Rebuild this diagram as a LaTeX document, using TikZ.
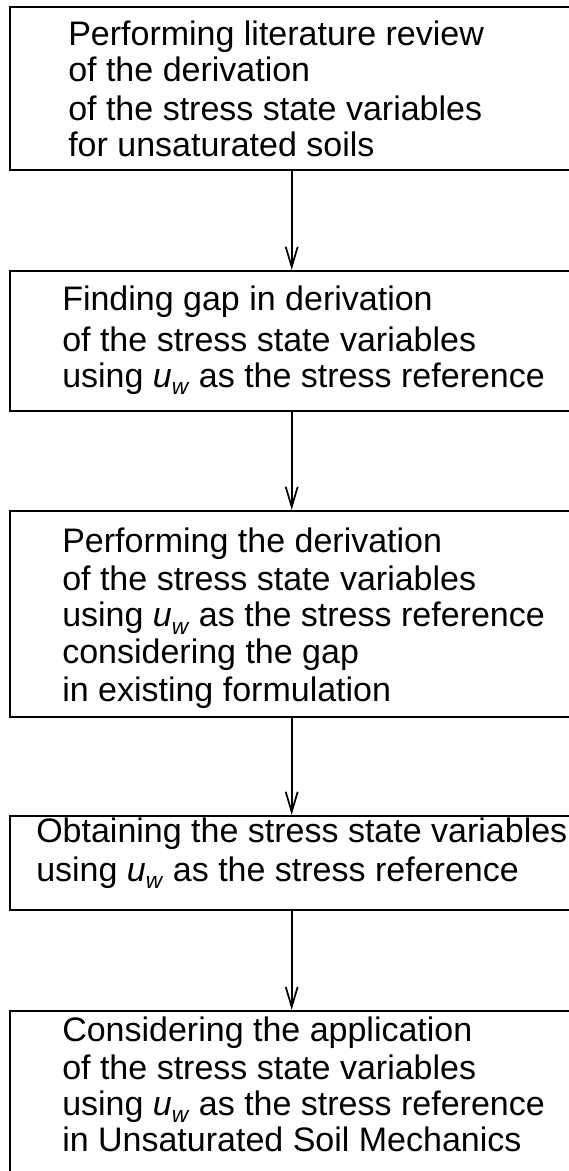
\documentclass[tikz,border=0pt]{standalone}
\usepackage{fontspec}
\setmainfont{Liberation Sans}
\usetikzlibrary{arrows.meta,fit}
\newcommand{\uw}{\textit{u}\raisebox{-0.22em}{\fontsize{17pt}{17pt}\selectfont\textit{w}}}
\begin{document}
\begin{tikzpicture}[x=0.75pt,y=-0.75pt,
  box/.style={draw,line width=1.3pt,inner sep=0pt},
  ln/.style={anchor=base west,inner sep=0pt,font=\fontsize{25.5pt}{30pt}\selectfont},
  arr/.style={line width=1.3pt,-{Straight Barb[length=15pt,width=9pt]}}]
\useasboundingbox (0,0) rectangle (568,1171);
% boxes
\node[box, fit={(10,7.3) (573.4,170)}] (b1) {};
\node[box, fit={(10,270.7) (573.4,410.7)}] (b2) {};
\node[box, fit={(10,510.7) (573.4,716.7)}] (b3) {};
\node[box, fit={(10,815.7) (573.4,909.7)}] (b4) {};
\node[box, fit={(10,1010.7) (573.4,1185)}] (b5) {};
% box 1 text
\node[ln] (t1a) at (68,45) {Performing literature review};
\node[ln] (t1b) at (68,81) {of the derivation};
\node[ln] (t1c) at (68,120) {of the stress state variables};
\node[ln] (t1d) at (68,156) {for unsaturated soils};
% box 2 text
\node[ln] (t2a) at (62,310) {Finding gap in derivation};
\node[ln] (t2b) at (62,351.7) {of the stress state variables};
\node[ln] (t2c) at (62,387.3) {using \uw{} as the stress reference};
% box 3 text
\node[ln] (t3a) at (62,552.7) {Performing the derivation};
\node[ln] (t3b) at (62,590) {of the stress state variables};
\node[ln] (t3c) at (62,626.7) {using \uw{} as the stress reference};
\node[ln] (t3d) at (62,663.3) {considering the gap};
\node[ln] (t3e) at (62,701) {in existing formulation};
% box 4 text
\node[ln] (t4a) at (36,842.3) {Obtaining the stress state variables};
\node[ln] (t4b) at (36,881) {using \uw{} as the stress reference};
% box 5 text
\node[ln] (t5a) at (62,1041.7) {Considering the application};
\node[ln] (t5b) at (62,1079) {of the stress state variables};
\node[ln] (t5c) at (62,1115) {using \uw{} as the stress reference};
\node[ln] (t5d) at (62,1151.7) {in Unsaturated Soil Mechanics};
% arrows
\draw[arr] (b1.south) -- (b2.north);
\draw[arr] (b2.south) -- (b3.north);
\draw[arr] (b3.south) -- (b4.north);
\draw[arr] (b4.south) -- (b5.north);
\end{tikzpicture}
\end{document}
